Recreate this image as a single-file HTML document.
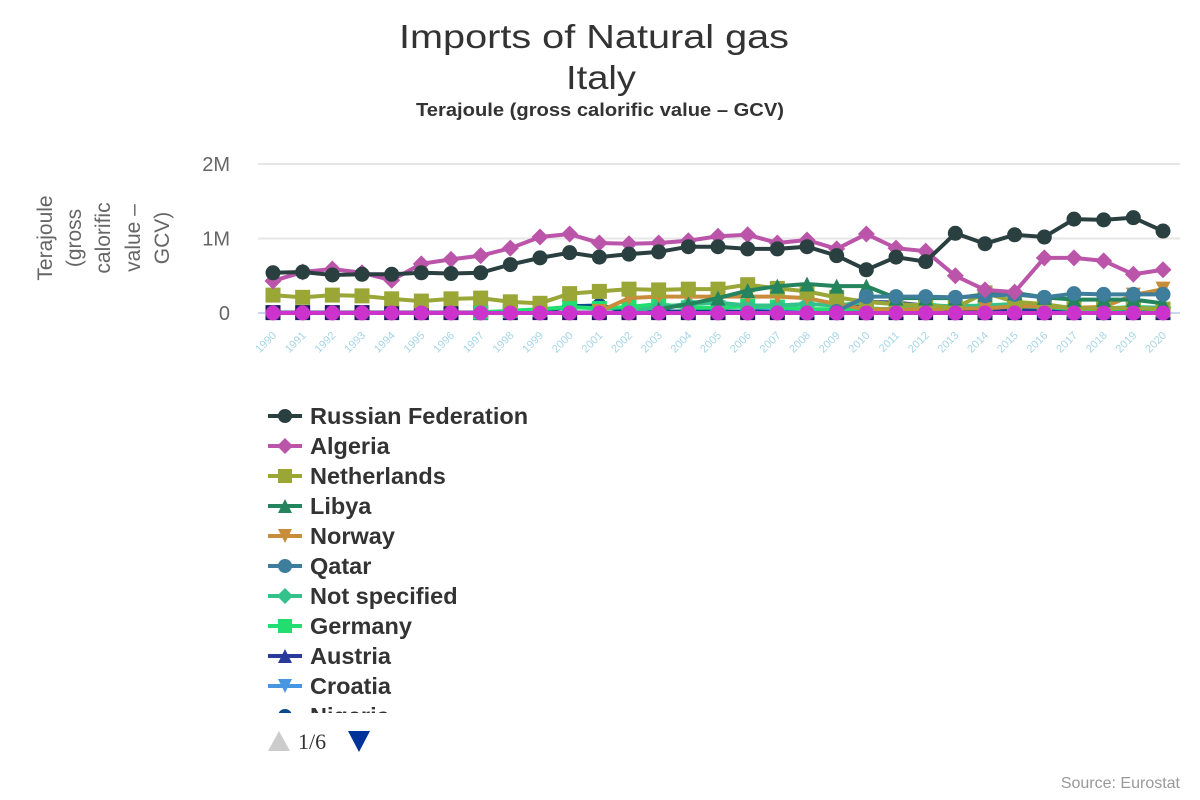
<!DOCTYPE html>
<html><head><meta charset="utf-8"><style>
body{margin:0;background:#fff;font-family:"Liberation Sans","DejaVu Sans",sans-serif;}
#wrap{position:relative;width:1200px;height:800px;overflow:hidden;}
</style></head><body>
<div id="wrap">
<svg id="chart" width="1200" height="800" xmlns="http://www.w3.org/2000/svg">
<text x="399" y="48" textLength="390" lengthAdjust="spacingAndGlyphs" font-size="33" fill="#333">Imports of Natural gas</text>
<text x="566" y="89" textLength="70" lengthAdjust="spacingAndGlyphs" font-size="33" fill="#333">Italy</text>
<text x="416" y="116" textLength="368" lengthAdjust="spacingAndGlyphs" font-size="18" font-weight="bold" fill="#333">Terajoule (gross calorific value – GCV)</text>
<g transform="translate(52,238) rotate(-90)" font-size="21" fill="#666" text-anchor="middle">
<text x="0" y="0">Terajoule</text><text x="0" y="29">(gross</text><text x="0" y="58">calorific</text><text x="0" y="88">value –</text><text x="0" y="117">GCV)</text>
</g>
<g id="grid"></g><g id="series"></g><g id="xlabels"></g><g id="legend"></g>
<text x="1180" y="788" text-anchor="end" font-size="16" fill="#999">Source: Eurostat</text>
</svg>
</div>
<script>
const years=[1990,1991,1992,1993,1994,1995,1996,1997,1998,1999,2000,2001,2002,2003,2004,2005,2006,2007,2008,2009,2010,2011,2012,2013,2014,2015,2016,2017,2018,2019,2020];
const yTicks=[0,1,2];
const yTickLabels=["0","1M","2M"];
const N=null;
const russia=[0.54,0.55,0.51,0.52,0.52,0.54,0.53,0.54,0.65,0.74,0.81,0.75,0.79,0.82,0.89,0.89,0.86,0.86,0.89,0.77,0.58,0.75,0.69,1.07,0.93,1.05,1.02,1.26,1.25,1.28,1.10];
const algeria=[0.43,0.55,0.59,0.54,0.44,0.66,0.72,0.77,0.87,1.02,1.06,0.94,0.93,0.94,0.97,1.03,1.05,0.94,0.98,0.86,1.06,0.87,0.83,0.50,0.31,0.28,0.74,0.74,0.70,0.52,0.58];
const netherlands=[0.24,0.21,0.24,0.23,0.19,0.16,0.19,0.20,0.15,0.13,0.26,0.29,0.32,0.31,0.32,0.32,0.38,0.33,0.29,0.21,0.15,0.12,0.10,0.07,0.27,0.15,0.12,0.06,0.06,0.07,0.05];
const libya=[N,N,N,N,N,N,N,N,N,N,N,N,N,0.05,0.12,0.20,0.30,0.36,0.39,0.36,0.36,0.20,0.20,0.20,0.25,0.27,0.21,0.18,0.18,0.18,0.13];
const norway=[N,N,N,N,N,N,N,N,N,N,N,0.02,0.20,0.22,0.22,0.22,0.22,0.22,0.20,0.12,0.05,0.05,0.05,0.06,0.06,0.09,0.09,0.07,0.08,0.24,0.32];
const qatar=[N,N,N,N,N,N,N,N,N,N,N,N,N,N,N,N,N,N,N,0.02,0.22,0.22,0.22,0.21,0.23,0.25,0.21,0.26,0.25,0.25,0.25];
const notSpecified=[N,N,N,N,N,N,N,N,N,N,N,N,0.02,0.08,0.12,0.14,0.10,0.10,0.12,0.10,0.15,0.12,0.10,0.09,0.10,0.12,0.08,0.06,0.06,0.08,0.07];
const germany=[N,N,N,N,N,N,N,0.01,0.03,0.05,0.08,0.06,0.08,0.12,0.07,0.07,0.09,0.08,0.05,0.05,0.06,0.05,0.12,0.07,0.07,0.09,0.08,0.05,0.05,0.06,0.05];
const austria=[N,N,N,N,N,N,N,N,N,N,N,N,N,N,N,N,N,N,N,0.05,0.15,0.14,0.10,0.03,0.03,0.04,0.03,0.02,0.02,0.03,0.03];
const croatia=[N,N,N,N,N,N,N,N,N,N,N,N,N,N,N,N,0.08,0.06,0.05,0.04,0.04,0.03,0.02,0.02,0.02,0.02,0.02,0.02,0.02,0.02,0.02];
const nigeria=[N,N,N,N,N,N,N,N,N,0.02,0.09,0.10,0.02,0.02,0.02,0.02,0.02,0.02,0.02,0.02,0.02,0.02,0.02,0.02,0.02,0.02,0.02,0.02,0.02,0.06,0.06];
const navyOther=years.map(()=>0.005);
const other=years.map(()=>0);
const seriesNames=["Russian Federation","Algeria","Netherlands","Libya","Norway","Qatar","Not specified","Germany","Austria","Croatia","Nigeria"];
const NS="http://www.w3.org/2000/svg";
const x0=273,x1=1163,yBase=313,yPerM=74.5;
function xs(i){return x0+(x1-x0)*i/(years.length-1);}
function ys(v){return yBase-v*yPerM;}
function mk(tag,attrs,parent){const e=document.createElementNS(NS,tag);for(const k in attrs)e.setAttribute(k,attrs[k]);parent.appendChild(e);return e;}
function marker(shape,cx,cy,r,color,parent){
 if(shape==="circle")return mk("circle",{cx:cx,cy:cy,r:r,fill:color},parent);
 if(shape==="diamond")return mk("polygon",{points:`${cx},${cy-r-1} ${cx+r+1},${cy} ${cx},${cy+r+1} ${cx-r-1},${cy}`,fill:color},parent);
 if(shape==="square")return mk("rect",{x:cx-r,y:cy-r,width:2*r,height:2*r,fill:color},parent);
 if(shape==="tri")return mk("polygon",{points:`${cx},${cy-r} ${cx+r},${cy+r} ${cx-r},${cy+r}`,fill:color},parent);
 return mk("polygon",{points:`${cx-r},${cy-r} ${cx+r},${cy-r} ${cx},${cy+r}`,fill:color},parent);
}
const grid=document.getElementById("grid");
yTicks.forEach((t,i)=>{
 const g=mk("line",{x1:258,x2:1180,y1:ys(t),y2:ys(t),stroke:i===0?"#ccd6eb":"#e6e6e6","stroke-width":2},grid);
 
 
 const tx=mk("text",{x:230,y:ys(t)+7,"text-anchor":"end","font-size":20,fill:"#666"},grid);
 tx.textContent=yTickLabels[i];
 
 
});
const xl=document.getElementById("xlabels");
years.forEach((y,i)=>{
 const t=mk("text",{x:xs(i)+4,y:336,"text-anchor":"end","font-size":11,fill:"#a6d5e6",transform:`rotate(-45 ${xs(i)+4} 336)`},xl);
 t.textContent=y;
 
 
});
const defs=[
 [navyOther,"#1a1a5e","square","other-navy"],
 [nigeria,"#0b4a8a","circle","nigeria"],
 [croatia,"#4896e0","tridown","croatia"],
 [austria,"#2a3a9a","tri","austria"],
 [germany,"#22dd6f","square","germany"],
 [notSpecified,"#33c28a","diamond","not-specified"],
 [norway,"#c98c3a","tridown","norway"],
 [netherlands,"#9aa635","square","netherlands"],
 [libya,"#24845e","tri","libya"],
 [qatar,"#3e7d9c","circle","qatar"],
 [other,"#cc33cc","circle","other"],
 [algeria,"#bb55aa","diamond","algeria"],
 [russia,"#2a3f3f","circle","russian-federation"]
];
const sg=document.getElementById("series");
defs.forEach(([vals,color,shape,name])=>{
 const g=mk("g",{},sg);
 
 
 const pts=[];vals.forEach((v,i)=>{if(v!==null)pts.push(xs(i)+","+ys(v));});
 mk("polyline",{points:pts.join(" "),fill:"none",stroke:color,"stroke-width":4},g);
 vals.forEach((v,i)=>{
  if(v===null)return;
  const m=marker(shape,xs(i),ys(v),7.5,color,g);
  
  
 });
});
const legendItems=[["#2a3f3f","circle"],["#bb55aa","diamond"],["#9aa635","square"],["#24845e","tri"],["#c98c3a","tridown"],["#3e7d9c","circle"],["#33c28a","diamond"],["#22dd6f","square"],["#2a3a9a","tri"],["#4896e0","tridown"],["#0b4a8a","circle"]];
const lg=document.getElementById("legend");
mk("clipPath",{id:"lclip"},lg).appendChild(document.createElementNS(NS,"rect"));
const cr=lg.querySelector("clipPath rect");cr.setAttribute("x",250);cr.setAttribute("y",395);cr.setAttribute("width",500);cr.setAttribute("height",318);
const li=mk("g",{"clip-path":"url(#lclip)"},lg);
seriesNames.forEach((n,i)=>{
 const cy=416+i*30;
 const g=mk("g",{},li);
 
 
 mk("line",{x1:268,x2:302,y1:cy,y2:cy,stroke:legendItems[i][0],"stroke-width":4},g);
 marker(legendItems[i][1],285,cy,7,legendItems[i][0],g);
 const t=mk("text",{x:310,y:cy+8,"font-size":23.5,"font-weight":"bold",fill:"#333"},g);
 t.textContent=n;
});
const up=mk("polygon",{points:"268,751 290,751 279,731",fill:"#ccc"},lg);


const pg=mk("text",{x:298,y:749,"font-size":22,fill:"#333","font-family":"Liberation Serif, serif"},lg);
pg.textContent="1/6";


const dn=mk("polygon",{points:"348,731 370,731 359,752",fill:"#003399"},lg);


</script>
</body></html>
